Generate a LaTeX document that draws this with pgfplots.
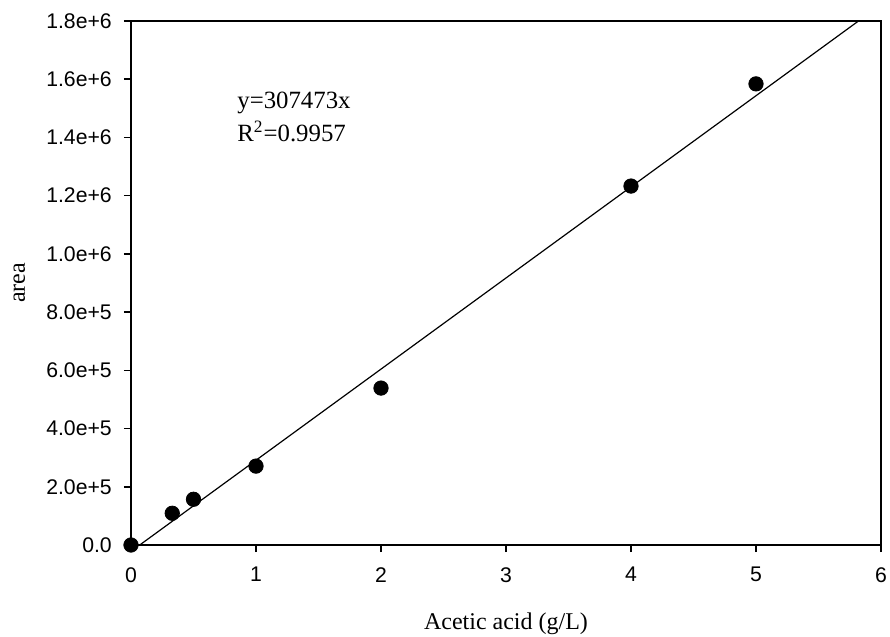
\documentclass[border=0pt]{standalone}
\usepackage{fontspec}
\setmainfont{Liberation Serif}
\setsansfont{Liberation Sans}
\usepackage{pgfplots}
\pgfplotsset{compat=1.18}

\begin{document}
\begin{tikzpicture}
\begin{axis}[
    scale only axis,
    width=375pt, height=262pt,
    xmin=0, xmax=6, ymin=0, ymax=1.8e6,
    enlargelimits=false,
    clip=false,
    axis line style={line width=0.8pt},
    tick style={line width=0.8pt, black},
    major tick length=3.6pt,
    tick align=outside,
    tick pos=left,
    xtick={0,1,2,3,4,5,6},
    ytick={0,2e5,4e5,6e5,8e5,1e6,1.2e6,1.4e6,1.6e6,1.8e6},
    yticklabels={0.0,2.0e+5,4.0e+5,6.0e+5,8.0e+5,1.0e+6,1.2e+6,1.4e+6,1.6e+6,1.8e+6},
    scaled y ticks=false,
    /pgf/number format/assume math mode=true,
    tick label style={font=\sffamily\fontsize{10.6}{12}\selectfont},
    xticklabel style={yshift=-4pt},
    yticklabel style={xshift=-2.5pt},
    label style={font=\fontsize{12}{14}\selectfont},
    xlabel={Acetic acid (g/L)},
    ylabel={area},
    xlabel style={at={(axis description cs:0.5,-0.15)}, anchor=center},
    ylabel style={at={(axis description cs:-0.149,0.5)}, anchor=center},
]
% fitted line
\addplot[black, line width=0.6pt] coordinates {(0.07,0) (5.82,1.8e6)};
% measured points
\addplot[only marks, mark=*, mark size=3.6pt, black] coordinates {
    (0,0) (0.33,1.09e5) (0.5,1.57e5) (1,2.71e5) (2,5.39e5) (4,1.233e6) (5,1.584e6)
};
\node[anchor=west, inner sep=0pt, font=\fontsize{12.4}{14}\selectfont] at (axis cs:0.848,1.52e6) {y=307473x};
\node[anchor=west, inner sep=0pt, font=\fontsize{12.4}{14}\selectfont] at (axis cs:0.848,1.42e6) {R\textsuperscript{2}=0.9957};
\end{axis}
\pgfresetboundingbox
\path[use as bounding box] (-65.5pt,-46pt) rectangle (379.5pt,272.5pt);
\end{tikzpicture}
\end{document}
